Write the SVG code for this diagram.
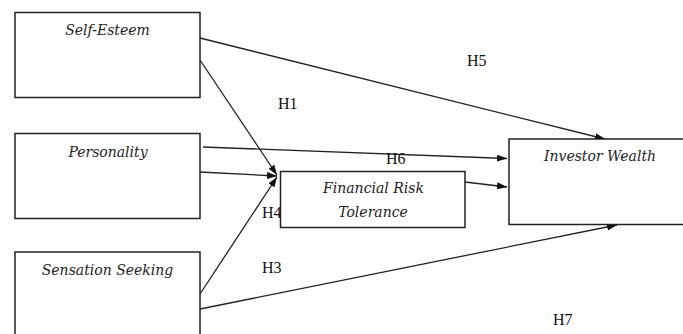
<svg xmlns="http://www.w3.org/2000/svg" width="683" height="334" viewBox="0 0 683 334">
  <style>
    .box { fill: #fff; stroke: #222; stroke-width: 1.5; }
    .edge { fill: none; stroke: #222; stroke-width: 1.3; marker-end: url(#arrow); }
    .plain { fill: none; stroke: #222; stroke-width: 1.3; }
    .name { font-family: "DejaVu Serif", "Liberation Serif", serif; font-style: italic; font-size: 14px; fill: #222; text-anchor: middle; }
    .hyp { font-family: "Liberation Serif", "Times New Roman", serif; font-size: 16px; fill: #111; }
  </style>
  <defs>
    <marker id="arrow" markerUnits="userSpaceOnUse" markerWidth="11" markerHeight="8" refX="10" refY="3.5" orient="auto">
      <path d="M0,0 L10,3.5 L0,7 z" fill="#111"/>
    </marker>
  </defs>
  <rect width="683" height="334" fill="#fff"/>

  <g id="connectors">
    <line class="edge" x1="200" y1="38" x2="605" y2="139"/>
    <line class="edge" x1="200" y1="60" x2="277" y2="175"/>
    <line class="edge" x1="203" y1="147" x2="507" y2="158.5"/>
    <line class="edge" x1="200" y1="172" x2="277" y2="176"/>
    <line class="edge" x1="200" y1="294" x2="277" y2="177"/>
    <line class="edge" x1="200" y1="309" x2="617" y2="225"/>
    <line class="edge" x1="465" y1="182" x2="507" y2="187"/>
  </g>

  <g id="labels">
    <text class="hyp" x="278" y="109">H1</text>
    <text class="hyp" x="467" y="66">H5</text>
    <text class="hyp" x="386" y="164">H6</text>
    <text class="hyp" x="262" y="218">H4</text>
    <text class="hyp" x="262" y="273">H3</text>
    <text class="hyp" x="553" y="325">H7</text>
  </g>

  <g id="self-esteem">
    <rect class="box" x="15" y="12.5" width="185" height="85"/>
    <text class="name" x="107.5" y="35">Self-Esteem</text>
  </g>
  <g id="personality">
    <rect class="box" x="15" y="133.5" width="185" height="85"/>
    <text class="name" x="108" y="157">Personality</text>
  </g>
  <g id="sensation-seeking">
    <rect class="box" x="15" y="252" width="185" height="100"/>
    <text class="name" x="107.5" y="275">Sensation Seeking</text>
  </g>
  <g id="financial-risk-tolerance">
    <rect class="box" x="280.5" y="171.5" width="184.5" height="56"/>
    <text class="name" x="373.5" y="193">Financial Risk</text>
    <text class="name" x="373" y="217">Tolerance</text>
  </g>
  <g id="investor-wealth">
    <rect class="box" x="509" y="139" width="200" height="85.5"/>
    <text class="name" x="600" y="161">Investor Wealth</text>
  </g>
</svg>
